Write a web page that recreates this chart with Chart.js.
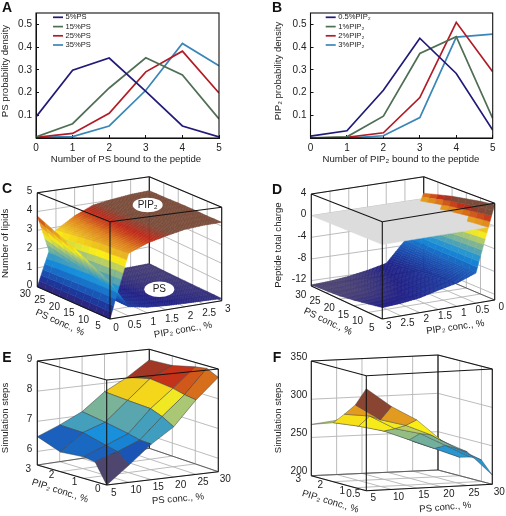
<!DOCTYPE html>
<html>
<head>
<meta charset="utf-8">
<style>
    html, body { margin: 0; padding: 0; background: #ffffff; }
    canvas { position: absolute; }
</style>
<script src="https://cdn.jsdelivr.net/npm/chart.js@4/dist/chart.umd.min.js"></script>
</head>
<body>
<script>
// panels A and B
const boundCounts = [0, 1, 2, 3, 4, 5];
const densityTicks = [0.1, 0.2, 0.3, 0.4, 0.5];
const psSeriesNames = ["5%PS", "15%PS", "25%PS", "35%PS"];
const ps5 = [0.093, 0.298, 0.352, 0.205, 0.053, 0.005];
const ps15 = [0.005, 0.063, 0.22, 0.353, 0.277, 0.084];
const ps25 = [0.003, 0.02, 0.109, 0.291, 0.382, 0.198];
const ps35 = [0.003, 0.006, 0.053, 0.21, 0.416, 0.318];
const pipSeriesNames = ["0.5%PIP₂", "1%PIP₂", "2%PIP₂", "3%PIP₂"];
const pip05 = [0.008, 0.032, 0.21, 0.439, 0.284, 0.035];
const pip1 = [0.001, 0.005, 0.096, 0.372, 0.446, 0.086];
const pip2 = [0, 0.003, 0.023, 0.178, 0.509, 0.291];
const pip3 = [0, 0, 0.01, 0.09, 0.444, 0.457];

// panels C to F
const psConc = [5, 10, 15, 20, 25, 30];
const pipConcFine = [0, 0.5, 1, 1.5, 2, 2.5, 3];
const pipConcSteps = [0, 0.5, 1, 2, 3];
const pipConcNoZero = [0.5, 1, 1.5, 2, 3];
const lipidTicks = [0, 1, 2, 3, 4, 5];
const chargeTicks = [4, 0, -4, -8, -12];
const stepsTicksE = [9, 8, 7, 6];
const stepsTicksF = [350, 300, 250, 200];
const pipTicksE = [0, 1, 2, 3];
const pipTicksF = [0.5, 1, 2, 3];

// rows follow psConc, columns follow pipConcFine
const pipLipids = [
    [0, 3.24, 3.63, 3.87, 4.08, 4.17, 4.2],
    [0, 3.2, 3.62, 3.88, 4.08, 4.18, 4.2],
    [0, 3.15, 3.6, 3.88, 4.07, 4.18, 4.22],
    [0, 3.05, 3.55, 3.88, 4.06, 4.18, 4.22],
    [0, 2.95, 3.5, 3.88, 4.05, 4.17, 4.2],
    [0, 2.85, 3.45, 3.88, 4.03, 4.15, 4.2]
];
const psLipids = [
    [1.9, 0.48, 0.3, 0.22, 0.18, 0.15, 0.12],
    [2.3, 0.5, 0.3, 0.2, 0.15, 0.12, 0.1],
    [2.7, 0.52, 0.3, 0.18, 0.12, 0.1, 0.08],
    [3.05, 0.55, 0.3, 0.16, 0.1, 0.08, 0.06],
    [3.4, 0.58, 0.3, 0.15, 0.08, 0.06, 0.05],
    [3.76, 0.6, 0.3, 0.14, 0.08, 0.05, 0.04]
];
const peptideCharge = [
    [3.8, -7.7, -8.9, -9.6, -10.4, -10.8, -11],
    [3.4, -7.6, -9.4, -10.1, -10.9, -11.3, -11.5],
    [2.9, -7.5, -9.8, -10.6, -11.3, -11.8, -12],
    [2.4, -7.4, -10.2, -11, -11.7, -12.2, -12.4],
    [1.7, -7.3, -10.5, -11.4, -12, -12.4, -12.6],
    [1, -7.1, -10.8, -11.6, -12.2, -12.6, -12.8]
];
const neutralPip = [3, 0];
const neutralPs = [5, 30];
const neutralCharge = [[0, 0], [0, 0]];

// rows follow pipConcSteps, columns follow psConc
const stepsE = [
    [5.55, 6.12, 6.73, 7.22, 8.04, 8.72],
    [6.2, 6.45, 6.75, 7.45, 8.1, 8.91],
    [6.26, 6.55, 6.85, 7.6, 8.2, 8.85],
    [6.2, 6.75, 7.0, 7.65, 8.3, 8.67],
    [6.49, 6.78, 7.13, 7.71, 8.11, 8.63]
];
// rows follow pipConcNoZero, columns follow psConc
const stepsF = [
    [333, 308, 289, 260, 244, 212],
    [308, 287, 278, 264, 245, 228],
    [292, 288, 270, 262, 245, 228],
    [277, 271, 263, 250, 237, 224],
    [267, 271, 263, 256, 239, 229]
];

const lineColors = ["#211a78", "#4f6f55", "#b11c26", "#3a86b8"];
const colorStops = [
    [0, "#4f4670"], [0.05, "#201f85"], [0.2, "#1a55b5"], [0.35, "#1890dc"], [0.47, "#62a9a8"],
    [0.58, "#a5c47a"], [0.68, "#fbee15"], [0.78, "#e8b222"], [0.86, "#dc7c1c"], [0.94, "#c02818"], [1, "#7a4c3a"]
];

const tickFont = "10px 'Liberation Sans'";
const titleFont = "9.6px 'Liberation Sans'";
const letterFont = "bold 14px 'Liberation Sans'";

const hexToRgb = (hex) => [1, 3, 5].map((i) => parseInt(hex.slice(i, i + 2), 16));

function colorFor(t) {
    const value = Math.max(0, Math.min(1, t));
    for (let i = 1; i < colorStops.length; i++) {
        if (value <= colorStops[i][0]) {
            const [t0, c0] = colorStops[i - 1];
            const [t1, c1] = colorStops[i];
            const k = (value - t0) / (t1 - t0);
            const a = hexToRgb(c0);
            const b = hexToRgb(c1);
            return `rgb(${a.map((v, j) => Math.round(v + (b[j] - v) * k)).join(",")})`;
        }
    }
    return colorStops[colorStops.length - 1][1];
}

const mix = (a, b, t) => a + (b - a) * t;
const norm = (value, range) => (value - range[0]) / (range[1] - range[0]);

// u runs front to right, v runs front to left, w runs floor to lid
function project(box, u, v, w) {
    const pick = (i) => mix(mix(box.front[i], box.right[i], u), mix(box.left[i], box.back[i], u), v);
    return { x: pick(0), y: mix(pick(2), pick(1), w) };
}

const textPlugin = {
    id: "panelText",
    afterDraw(chart, args, options) {
        const { ctx } = chart;
        ctx.save();
        (options.ellipses || []).forEach((e) => {
            ctx.fillStyle = "#ffffff";
            ctx.beginPath();
            ctx.ellipse(e.x - options.left, e.y - options.top, e.rx, e.ry, 0, 0, Math.PI * 2);
            ctx.fill();
        });
        (options.items || []).forEach((item) => {
            ctx.save();
            ctx.translate(item.x - options.left, item.y - options.top);
            ctx.rotate((item.rotation || 0) * Math.PI / 180);
            ctx.font = item.font;
            ctx.fillStyle = item.color || "#222222";
            ctx.textAlign = item.align || "center";
            ctx.textBaseline = "middle";
            ctx.fillText(item.text, 0, 0);
            ctx.restore();
        });
        ctx.restore();
    }
};

function makeCanvas(left, top, width, height) {
    const canvas = document.createElement("canvas");
    canvas.width = width;
    canvas.height = height;
    canvas.style.left = `${left}px`;
    canvas.style.top = `${top}px`;
    canvas.style.width = `${width}px`;
    canvas.style.height = `${height}px`;
    document.body.appendChild(canvas);
    return canvas;
}

const framePlugin = {
    id: "plotFrame",
    afterDraw(chart) {
        const { ctx, chartArea: a } = chart;
        ctx.save();
        ctx.strokeStyle = "#111111";
        ctx.lineWidth = 1.1;
        ctx.strokeRect(a.left, a.top, a.right - a.left, a.bottom - a.top);
        ctx.restore();
    }
};

function drawLinePanel(cfg) {
    const canvas = makeCanvas(cfg.left, 0, 253, 170);
    const items = [
        { text: cfg.letter, x: cfg.letterX, y: 8, font: letterFont, color: "#111111" },
        { text: cfg.xTitle, x: cfg.xTitleX, y: 159, font: titleFont },
        { text: cfg.yTitle, x: cfg.yTitleX, y: 71, font: titleFont, rotation: -90 }
    ];
    const legendRows = [17.3, 26.6, 35.8, 45];
    cfg.names.forEach((name, i) => {
        items.push({ text: name, x: cfg.legendX + 12.5, y: legendRows[i], font: "7.6px 'Liberation Sans'", align: "left" });
    });

    new Chart(canvas, {
        type: "line",
        data: {
            labels: boundCounts,
            datasets: cfg.series.map((values, i) => ({
                label: cfg.names[i],
                data: values,
                borderColor: lineColors[i],
                borderWidth: 1.7,
                pointRadius: 0,
                tension: 0
            }))
        },
        options: {
            responsive: false,
            animation: false,
            events: [],
            layout: { padding: { top: 2, right: 253 - cfg.plotRight, left: 0, bottom: 0 } },
            scales: {
                x: {
                    type: "linear",
                    min: 0,
                    max: 5,
                    afterFit: (scale) => { scale.height = 32; },
                    afterBuildTicks: (scale) => { scale.ticks = boundCounts.map((value) => ({ value })); },
                    grid: { drawOnChartArea: false, tickLength: -3, color: "#111111" },
                    border: { color: "#111111" },
                    ticks: { maxRotation: 0, autoSkip: false, padding: 7, color: "#222222", font: { family: "Liberation Sans", size: 10 } }
                },
                y: {
                    min: 0,
                    max: 0.55,
                    afterFit: (scale) => { scale.width = cfg.plotLeft; },
                    afterBuildTicks: (scale) => { scale.ticks = densityTicks.map((value) => ({ value })); },
                    grid: { drawOnChartArea: false, tickLength: -3, color: "#111111" },
                    border: { color: "#111111" },
                    ticks: { padding: 7, color: "#222222", font: { family: "Liberation Sans", size: 10 } }
                }
            },
            plugins: {
                legend: { display: false },
                tooltip: { enabled: false },
                panelText: { left: 0, top: 0, items }
            }
        },
        plugins: [framePlugin, textPlugin, {
            id: "lineKey",
            afterDraw(chart) {
                const { ctx } = chart;
                ctx.save();
                ctx.lineWidth = 1.7;
                cfg.names.forEach((name, i) => {
                    ctx.strokeStyle = lineColors[i];
                    ctx.beginPath();
                    ctx.moveTo(cfg.legendX, legendRows[i]);
                    ctx.lineTo(cfg.legendX + 10, legendRows[i]);
                    ctx.stroke();
                });
                ctx.restore();
            }
        }]
    });
}

function segment(box, from, to, color, width) {
    return {
        data: [project(box, ...from), project(box, ...to)],
        showLine: true,
        borderColor: color,
        borderWidth: width,
        pointRadius: 0,
        fill: false
    };
}

function surfaceCells(cfg, surface) {
    const cells = [];
    const { columns, rows, values, subdivide = [1, 1] } = surface;
    const [subU, subV] = subdivide;
    const gamma = cfg.colorGamma || 1;
    for (let r = 0; r < rows.length - 1; r++) {
        for (let c = 0; c < columns.length - 1; c++) {
            for (let a = 0; a < subU; a++) {
                for (let b = 0; b < subV; b++) {
                    const corners = [[a / subU, b / subV], [(a + 1) / subU, b / subV], [(a + 1) / subU, (b + 1) / subV], [a / subU, (b + 1) / subV]];
                    const points = corners.map(([s, t]) => {
                        const z = mix(mix(values[r][c], values[r][c + 1], s), mix(values[r + 1][c], values[r + 1][c + 1], s), t);
                        return {
                            u: norm(mix(columns[c], columns[c + 1], s), cfg.uRange),
                            v: norm(mix(rows[r], rows[r + 1], t), cfg.vRange),
                            z
                        };
                    });
                    const meanZ = points.reduce((sum, p) => sum + p.z, 0) / 4;
                    const shadeZ = surface.firstCorner ? values[r][c] : meanZ;
                    const meanU = points.reduce((sum, p) => sum + p.u, 0) / 4;
                    const meanV = points.reduce((sum, p) => sum + p.v, 0) / 4;
                    const meanW = norm(meanZ, cfg.zRange);
                    const shade = Math.pow(Math.max(0, norm(shadeZ, cfg.colorRange)), gamma);
                    const color = surface.color || colorFor(shade);
                    cells.push({
                        layer: surface.layer !== undefined ? surface.layer : (cfg.splitAtZero && meanZ > 0 ? 2 : 0),
                        depth: meanU + meanV - cfg.zWeight * meanW,
                        dataset: {
                            data: [...points, points[0]].map((p) => project(cfg.box, p.u, p.v, norm(p.z, cfg.zRange))),
                            showLine: true,
                            fill: "shape",
                            backgroundColor: color,
                            borderColor: surface.edge || color,
                            borderWidth: surface.edgeWidth || 0.5,
                            pointRadius: 0,
                            tension: 0
                        }
                    });
                }
            }
        }
    }
    return cells;
}

function drawBoxPanel(cfg) {
    const { left, top, width, height, box } = cfg;
    const canvas = makeCanvas(left, top, width, height);
    const grid = "#b4b4b4";
    const ink = "#151515";
    const back = [];

    // wall and floor grid lines
    cfg.uTicks.forEach((tick) => {
        const u = norm(tick, cfg.uRange);
        back.push(segment(box, [u, 1, 0], [u, 1, 1], grid, 0.9));
        back.push(segment(box, [u, 0, 0], [u, 1, 0], grid, 0.9));
    });
    cfg.vTicks.forEach((tick) => {
        const v = norm(tick, cfg.vRange);
        back.push(segment(box, [1, v, 0], [1, v, 1], grid, 0.9));
        back.push(segment(box, [0, v, 0], [1, v, 0], grid, 0.9));
    });
    cfg.zTicks.forEach((tick) => {
        const w = norm(tick, cfg.zRange);
        back.push(segment(box, [0, 1, w], [1, 1, w], grid, 0.9));
        back.push(segment(box, [1, 1, w], [1, 0, w], grid, 0.9));
    });
    back.push(segment(box, [0, 1, 0], [1, 1, 0], "#555555", 0.9));
    back.push(segment(box, [1, 1, 0], [1, 0, 0], "#555555", 0.9));
    back.push(segment(box, [1, 1, 0], [1, 1, 1], ink, 1.1));
    back.push(segment(box, [0, 1, 1], [1, 1, 1], ink, 1.1));
    back.push(segment(box, [1, 0, 1], [1, 1, 1], ink, 1.1));

    const cells = cfg.surfaces.flatMap((surface) => surfaceCells(cfg, surface));
    cells.sort((a, b) => a.layer - b.layer || b.depth - a.depth);

    const front = [
        segment(box, [0, 0, 0], [0, 0, 1], ink, 1.1),
        segment(box, [0, 1, 0], [0, 1, 1], ink, 1.1),
        segment(box, [1, 0, 0], [1, 0, 1], ink, 1.1),
        segment(box, [0, 0, 1], [0, 1, 1], ink, 1.1),
        segment(box, [0, 0, 1], [1, 0, 1], ink, 1.1),
        segment(box, [0, 0, 0], [0, 1, 0], ink, 1.1),
        segment(box, [0, 0, 0], [1, 0, 0], ink, 1.1)
    ];

    // first dataset ends up on top, so the paint list is reversed
    const paintOrder = [...back, ...cells.map((cell) => cell.dataset), ...front].reverse();

    const items = [{ text: cfg.letter, x: cfg.letterX, y: cfg.letterY, font: letterFont, color: "#111111" }];
    cfg.uTicks.forEach((tick) => {
        const p = project(box, norm(tick, cfg.uRange), 0, 0);
        items.push({ text: String(tick), x: p.x + cfg.uLabelShift[0], y: p.y + cfg.uLabelShift[1], font: tickFont });
    });
    cfg.vTicks.forEach((tick) => {
        const p = project(box, 0, norm(tick, cfg.vRange), 0);
        items.push({ text: String(tick), x: p.x + cfg.vLabelShift[0], y: p.y + cfg.vLabelShift[1], font: tickFont });
    });
    cfg.zTicks.forEach((tick) => {
        const p = project(box, 0, 1, norm(tick, cfg.zRange));
        items.push({ text: String(tick), x: p.x + cfg.zLabelShift[0], y: p.y + cfg.zLabelShift[1], font: tickFont, align: "right" });
    });
    cfg.titles.forEach((title) => items.push({ font: titleFont, ...title }));

    new Chart(canvas, {
        type: "scatter",
        data: { datasets: paintOrder },
        options: {
            responsive: false,
            animation: false,
            events: [],
            parsing: false,
            normalized: true,
            scales: {
                x: { type: "linear", display: false, min: left, max: left + width },
                y: { type: "linear", display: false, reverse: true, min: top, max: top + height }
            },
            plugins: {
                legend: { display: false },
                tooltip: { enabled: false },
                panelText: { left, top, items, ellipses: cfg.ellipses }
            }
        },
        plugins: [textPlugin]
    });
}

document.addEventListener("DOMContentLoaded", () => {
    drawLinePanel({
        left: 0, letter: "A", letterX: 7, plotLeft: 36, plotRight: 219,
        xTitle: "Number of PS bound to the peptide", xTitleX: 126, yTitle: "PS probability density", yTitleX: 5,
        names: psSeriesNames, series: [ps5, ps15, ps25, ps35], legendX: 53
    });
    drawLinePanel({
        left: 253, letter: "B", letterX: 24, plotLeft: 57.5, plotRight: 239.7,
        xTitle: "Number of PIP₂ bound to the peptide", xTitleX: 148, yTitle: "PIP₂ probability density", yTitleX: 25,
        names: pipSeriesNames, series: [pip05, pip1, pip2, pip3], legendX: 72.7
    });

    drawBoxPanel({
        left: 0, top: 170, width: 253, height: 175, letter: "C", letterX: 7, letterY: 189,
        box: { front: [110, 221.7, 319], left: [37.3, 192.7, 286.7], right: [221.7, 207.3, 300.7], back: [149.3, 176.7, 264.3] },
        uRange: [0, 3], vRange: [5, 30], zRange: [0, 5], colorRange: [0, 3.95], zWeight: 0.5,
        uTicks: pipConcFine, vTicks: psConc, zTicks: lipidTicks,
        uLabelShift: [6, 9], vLabelShift: [-12, 7.5], zLabelShift: [-5, -1],
        surfaces: [
            { columns: pipConcFine, rows: psConc, values: psLipids, subdivide: [10, 2] },
            { columns: pipConcFine, rows: psConc, values: pipLipids, subdivide: [10, 2] }
        ],
        ellipses: [{ x: 147.7, y: 205, rx: 15, ry: 7.3 }, { x: 159.3, y: 289.3, rx: 15, ry: 7.7 }],
        titles: [
            { text: "PIP₂", x: 147.7, y: 205, font: "10px 'Liberation Sans'" },
            { text: "PS", x: 159.3, y: 289.3, font: "10px 'Liberation Sans'" },
            { text: "Number of lipids", x: 5.7, y: 243.3, rotation: -90 },
            { text: "PS conc., %", x: 60, y: 322.7, rotation: 24 },
            { text: "PIP₂ conc., %", x: 183, y: 330, rotation: -10 }
        ]
    });
    drawBoxPanel({
        left: 253, top: 170, width: 253, height: 175, letter: "D", letterX: 277, letterY: 190,
        box: { front: [382.3, 221.7, 319], left: [311.3, 194, 286], right: [494.7, 203.3, 300], back: [423.7, 176.7, 270] },
        uRange: [3, 0], vRange: [5, 30], zRange: [-13, 4], colorRange: [-12.8, 2.2], colorGamma: 1.4, zWeight: 0.3, splitAtZero: true,
        uTicks: pipConcFine, vTicks: psConc, zTicks: chargeTicks,
        uLabelShift: [6.5, 7], vLabelShift: [-10.5, 9], zLabelShift: [-5, -1],
        surfaces: [
            { columns: pipConcFine, rows: psConc, values: peptideCharge, subdivide: [12, 2] },
            { columns: neutralPip, rows: neutralPs, values: neutralCharge, color: "#dcdcdc", layer: 1 }
        ],
        titles: [
            { text: "Peptide total charge", x: 278, y: 245, rotation: -90 },
            { text: "PS conc., %", x: 328, y: 321.7, rotation: 25 },
            { text: "PIP₂ conc., %", x: 455.3, y: 327.3, rotation: -8 }
        ]
    });
    drawBoxPanel({
        left: 0, top: 345, width: 253, height: 171, letter: "E", letterX: 7, letterY: 358,
        box: { front: [106.7, 380, 485], left: [37.3, 361, 465], right: [218.3, 369, 471.7], back: [149.3, 349.3, 448.3] },
        uRange: [5, 30], vRange: [0, 3], zRange: [5.55, 9], colorRange: [5.55, 8.4], zWeight: 0.3,
        uTicks: psConc, vTicks: pipTicksE, zTicks: stepsTicksE,
        uLabelShift: [7, 8], vLabelShift: [-9, 4], zLabelShift: [-5, -2],
        surfaces: [
            { columns: psConc, rows: pipConcSteps, values: stepsE, firstCorner: true, edge: "#3a3a3a", edgeWidth: 0.5 }
        ],
        titles: [
            { text: "Simulation steps", x: 5, y: 418, rotation: -90 },
            { text: "PIP₂ conc., %", x: 60, y: 491, rotation: 18 },
            { text: "PS conc., %", x: 178, y: 499, rotation: -5 }
        ]
    });
    drawBoxPanel({
        left: 253, top: 345, width: 253, height: 171, letter: "F", letterX: 277, letterY: 358,
        box: { front: [366.3, 375.7, 490.7], left: [311.3, 361, 475.7], right: [492.3, 369, 484.3], back: [438, 355, 470] },
        uRange: [5, 30], vRange: [0.5, 3], zRange: [200, 350], colorRange: [190, 335], zWeight: 0.3,
        uTicks: psConc, vTicks: pipTicksF, zTicks: stepsTicksF,
        uLabelShift: [7, 7.5], vLabelShift: [-13, 4], zLabelShift: [-4, -4],
        surfaces: [
            { columns: psConc, rows: pipConcNoZero, values: stepsF, firstCorner: true, edge: "#3a3a3a", edgeWidth: 0.4 }
        ],
        titles: [
            { text: "Simulation steps", x: 278, y: 418, rotation: -90 },
            { text: "PIP₂ conc., %", x: 330.3, y: 501.7, rotation: 17 },
            { text: "PS conc., %", x: 445.3, y: 507.3, rotation: -5 }
        ]
    });
});
</script>
</body>
</html>
